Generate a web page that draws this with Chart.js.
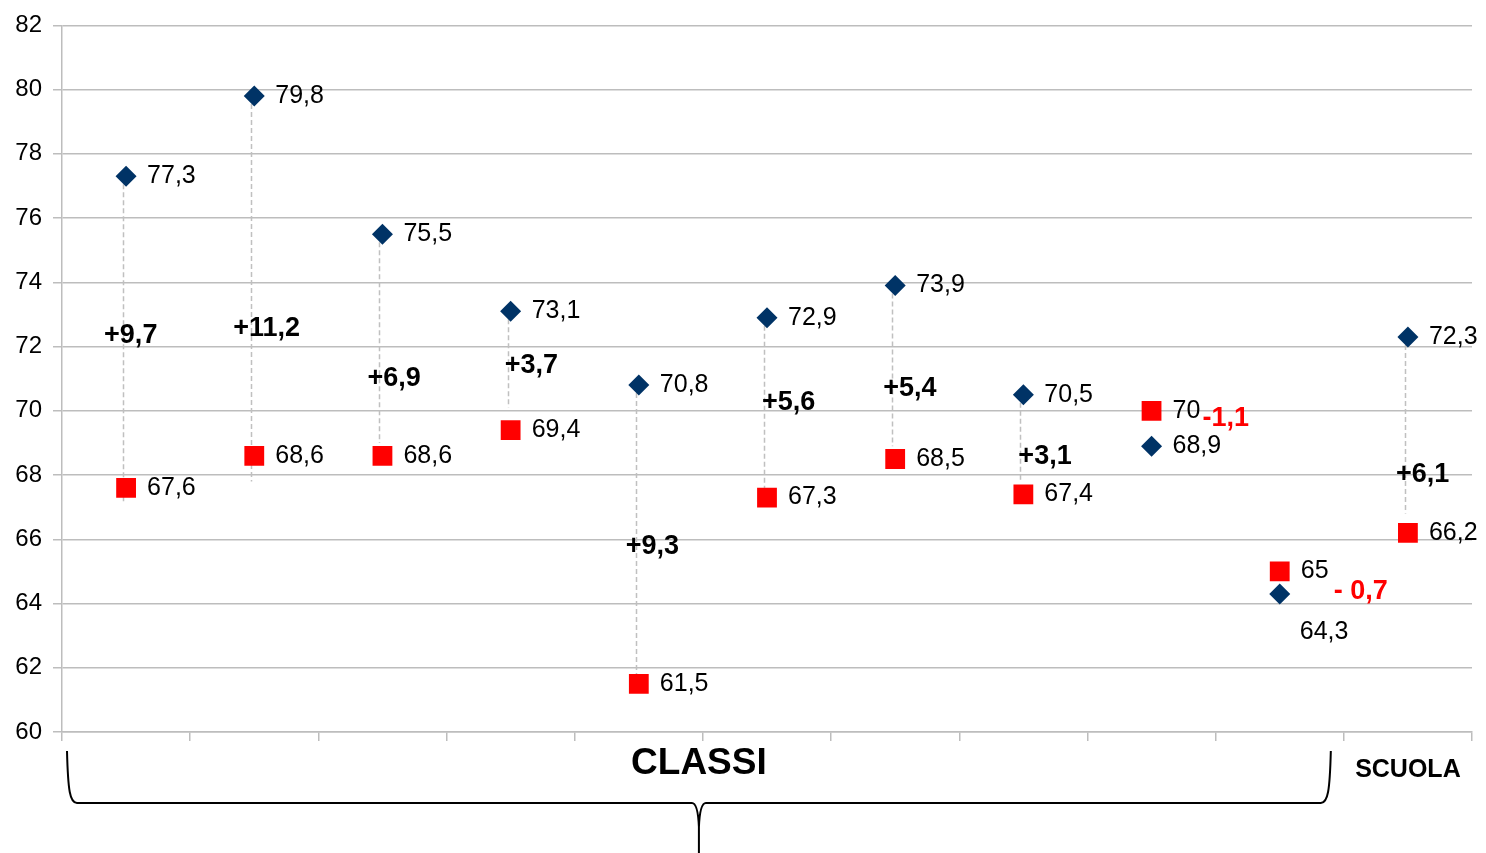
<!DOCTYPE html>
<html>
<head>
<meta charset="utf-8">
<title>Classi / Scuola</title>
<script src="https://cdn.jsdelivr.net/npm/chart.js@4.4.1/dist/chart.umd.min.js"></script>
<style>
	html, body { margin: 0; padding: 0; background: #fff; }
	#wrap { width: 1486px; height: 853px; position: relative; }
</style>
</head>
<body>
<div id="wrap"><canvas id="chart"></canvas></div>
<script>
	// Data
	const categories = ['Classe 1', 'Classe 2', 'Classe 3', 'Classe 4', 'Classe 5', 'Classe 6',
		'Classe 7', 'Classe 8', 'Classe 9', 'Classe 10', 'SCUOLA'];
	const blueValues = [77.3, 79.8, 75.5, 73.1, 70.8, 72.9, 73.9, 70.5, 68.9, 64.3, 72.3];
	const redValues = [67.6, 68.6, 68.6, 69.4, 61.5, 67.3, 68.5, 67.4, 70, 65, 66.2];
	const deltaLabels = ['+9,7', '+11,2', '+6,9', '+3,7', '+9,3', '+5,6', '+5,4', '+3,1', '-1,1', '- 0,7', '+6,1'];
	const deltaLevels = [72.34, 72.55, 71.0, 71.4, 65.78, 70.25, 70.69, 68.58, 69.76, 64.38, 68.02];
	const linkEnds = [67.1, 67.8, 69.0, 70.1, 61.5, 67.5, 68.9, 67.8, null, null, 66.8];
	const yTicks = [60, 62, 64, 66, 68, 70, 72, 74, 76, 78, 80, 82];
	const groupLabel = 'CLASSI';

	const FONT = '"Liberation Sans", Arial, sans-serif';

	function fmt(v) {
		return String(v).replace('.', ',');
	}

	/**
	 * Dashed links between the two series (drawn behind the markers)
	 */
	const linksPlugin = {
		id: 'links',
		beforeDatasetsDraw(chart) {
			const ctx = chart.ctx;
			const x = chart.scales.x, y = chart.scales.y;
			ctx.save();
			ctx.strokeStyle = '#c0c0c0';
			ctx.lineWidth = 1.5;
			ctx.setLineDash([5, 3]);
			blueValues.forEach(function(v, i) {
				if (linkEnds[i] === null) return;
				const px = Math.round(x.getPixelForValue(i)) - 2.5;
				ctx.beginPath();
				ctx.moveTo(px, y.getPixelForValue(v));
				ctx.lineTo(px, y.getPixelForValue(linkEnds[i]));
				ctx.stroke();
			});
			ctx.restore();
		}
	};

	/**
	 * Value labels next to markers and the difference labels
	 */
	const labelsPlugin = {
		id: 'labels',
		afterDatasetsDraw(chart, args, opts) {
			const ctx = chart.ctx;
			const x = chart.scales.x, y = chart.scales.y;
			ctx.save();
			ctx.textAlign = 'left';
			ctx.textBaseline = 'middle';

			ctx.font = opts.valueFont;
			ctx.fillStyle = '#000';
			chart.data.datasets.forEach(function(ds, d) {
				const meta = chart.getDatasetMeta(d);
				meta.data.forEach(function(pt, i) {
					const shift = (opts.shifts[d + '-' + i]) || [21, 0];
					ctx.fillText(fmt(ds.data[i]), pt.x + shift[0], pt.y + shift[1]);
				});
			});

			ctx.font = opts.deltaFont;
			deltaLabels.forEach(function(t, i) {
				ctx.fillStyle = t.charAt(0) === '-' ? '#ff0000' : '#000';
				ctx.fillText(t, x.getPixelForValue(i) + opts.deltaDx[i], y.getPixelForValue(deltaLevels[i]));
			});
			ctx.restore();
		}
	};

	/**
	 * Curly brace under the class categories
	 */
	const bracePlugin = {
		id: 'brace',
		afterDraw(chart) {
			const ctx = chart.ctx;
			const x = chart.scales.x;
			const n = categories.length;
			const L = x.left + 5;
			const R = (x.getPixelForValue(n - 2) + x.getPixelForValue(n - 1)) / 2 - 13;
			const M = (L + R) / 2;
			const top = x.top + 19;
			const bar = x.top + 71;
			const H = chart.height;

			ctx.save();
			ctx.strokeStyle = '#000';
			ctx.lineWidth = 2;
			ctx.beginPath();
			ctx.moveTo(L, top);
			ctx.bezierCurveTo(L + 1, bar - 12, L + 3, bar, L + 10, bar);
			ctx.lineTo(M - 7, bar);
			ctx.quadraticCurveTo(M - 1, bar, M, bar + 24);
			ctx.lineTo(M, H + 2);
			ctx.moveTo(M, bar + 24);
			ctx.quadraticCurveTo(M + 1, bar, M + 7, bar);
			ctx.lineTo(R - 10, bar);
			ctx.bezierCurveTo(R - 3, bar, R - 1, bar - 12, R, top);
			ctx.stroke();

			ctx.fillStyle = '#000';
			ctx.font = 'bold 37px ' + FONT;
			ctx.textAlign = 'center';
			ctx.textBaseline = 'middle';
			ctx.fillText(groupLabel, M, x.top + 32);
			ctx.restore();
		}
	};

	const ctx = document.getElementById('chart').getContext('2d');

	new Chart(ctx, {
		type: 'line',
		data: {
			labels: categories,
			datasets: [
				{
					label: 'Serie 1',
					data: blueValues,
					showLine: false,
					pointStyle: 'rectRot',
					pointRadius: 10.5,
					pointHoverRadius: 10.5,
					pointBackgroundColor: '#003366',
					pointBorderColor: '#003366',
					pointBorderWidth: 0
				},
				{
					label: 'Serie 2',
					data: redValues,
					showLine: false,
					pointStyle: 'rect',
					pointRadius: 14,
					pointHoverRadius: 14,
					pointBackgroundColor: '#ff0000',
					pointBorderColor: '#ff0000',
					pointBorderWidth: 0
				}
			]
		},
		options: {
			responsive: true,
			maintainAspectRatio: false,
			animation: false,
			events: [],
			layout: {
				padding: { top: 24, right: 12, bottom: 0, left: 0 }
			},
			plugins: {
				legend: { display: false },
				tooltip: { enabled: false },
				labels: {
					valueFont: '25px ' + FONT,
					deltaFont: 'bold 27px ' + FONT,
					shifts: { '0-9': [20, 38] },
					deltaDx: [-22, -21, -15, -6, -13, -5, -12, -5, 51, 54, -12]
				}
			},
			scales: {
				x: {
					offset: true,
					grid: {
						offset: true,
						drawOnChartArea: false,
						color: '#bdbdbd',
						lineWidth: 1.5,
						tickLength: 9
					},
					border: { color: '#bdbdbd', width: 1.5 },
					ticks: {
						autoSkip: false,
						maxRotation: 0,
						color: '#000',
						padding: 14,
						font: { family: FONT, size: 25, weight: 'bold' },
						callback: function(v, i) {
							return categories[i] === 'SCUOLA' ? categories[i] : '';
						}
					},
					afterFit: function(s) {
						s.height = 121;
						s.paddingLeft = 0;
						s.paddingRight = 0;
					}
				},
				y: {
					min: 60,
					max: 82,
					afterBuildTicks: function(s) {
						s.ticks = yTicks.map(function(v) { return { value: v }; });
					},
					grid: { color: '#bdbdbd', lineWidth: 1.5, tickLength: 9 },
					border: { color: '#bdbdbd', width: 1.5 },
					ticks: {
						color: '#000',
						padding: 11,
						font: { family: FONT, size: 24 }
					},
					afterFit: function(s) { s.width = 62; }
				}
			}
		},
		plugins: [linksPlugin, labelsPlugin, bracePlugin]
	});
</script>
</body>
</html>
